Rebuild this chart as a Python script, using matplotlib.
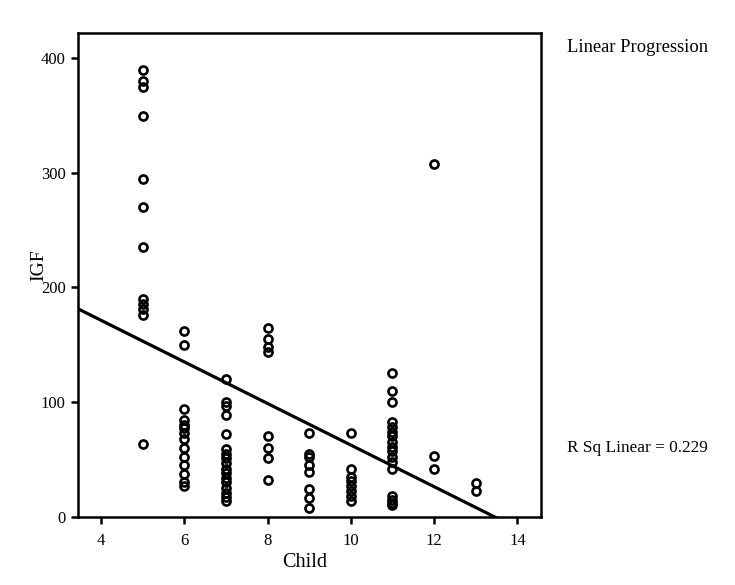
import matplotlib
matplotlib.use("Agg")
import matplotlib.pyplot as plt
import numpy as np

plt.rcParams['font.family'] = ['Liberation Serif', 'DejaVu Serif']

# IGF values per Child group
child_5 = [390, 380, 375, 350, 295, 270, 235, 190, 186, 181, 176, 63]
child_6 = [162, 150, 94, 84, 80, 77, 73, 68, 60, 52, 45, 37, 30, 27]
child_7 = [120, 100, 97, 89, 72, 59, 55, 51, 47, 42, 38, 34, 30, 25, 21, 17, 14]
child_8 = [165, 155, 148, 144, 70, 60, 51, 32]
child_9 = [73, 55, 52, 45, 39, 24, 16, 8]
child_10 = [73, 42, 35, 31, 27, 22, 18, 14]
child_11 = [125, 110, 100, 83, 78, 74, 70, 65, 61, 57, 52, 48, 42, 18, 15, 12, 10]
child_12 = [308, 53, 42]
child_13 = [29, 22]

groups = {5: child_5, 6: child_6, 7: child_7, 8: child_8, 9: child_9,
          10: child_10, 11: child_11, 12: child_12, 13: child_13}

# fitted linear line (as drawn in the reference)
fit_intercept = 244.0
fit_slope = -18.15
r_sq = 0.229

x_ticks = [4, 6, 8, 10, 12, 14]
y_ticks = [0, 100, 200, 300, 400]

fig = plt.figure(figsize=(7.35, 5.85), dpi=100)
ax = fig.add_axes([78.3 / 735, 1 - 516.7 / 585, (540.7 - 78.3) / 735, (516.7 - 33.3) / 585])

xs = np.concatenate([[k] * len(v) for k, v in groups.items()])
ys = np.concatenate([v for v in groups.values()])
ax.plot(xs, ys, linestyle='none', marker='o', markersize=5.8,
        markerfacecolor='none', markeredgecolor='black', markeredgewidth=1.9,
        zorder=3)

xlim = (3.455, 14.56)
xl = np.array(xlim)
ax.plot(xl, fit_intercept + fit_slope * xl, color='black', linewidth=2.3, zorder=2)

ax.set_xlim(*xlim)
ax.set_ylim(0, 421.8)
ax.set_xticks(x_ticks)
ax.set_yticks(y_ticks)

for s in ax.spines.values():
    s.set_linewidth(1.8)
ax.tick_params(direction='out', length=5, width=1.8, labelsize=12)
ax.tick_params(axis='y', pad=4)
ax.tick_params(axis='x', pad=7)

ax.set_xlabel('Child', fontsize=14.5, va='center')
ax.set_ylabel('IGF', fontsize=14, va='center')
ax.xaxis.set_label_coords(0.49, -0.094)
ax.yaxis.set_label_coords(-0.086, 0.52)

fig.text(567 / 735, 1 - 47 / 585, 'Linear Progression', fontsize=13.3,
         ha='left', va='center')
fig.text(567 / 735, 1 - 448 / 585, 'R Sq Linear = %.3f' % r_sq, fontsize=12.4,
         ha='left', va='center')

fig.savefig('out.png', dpi=100)
